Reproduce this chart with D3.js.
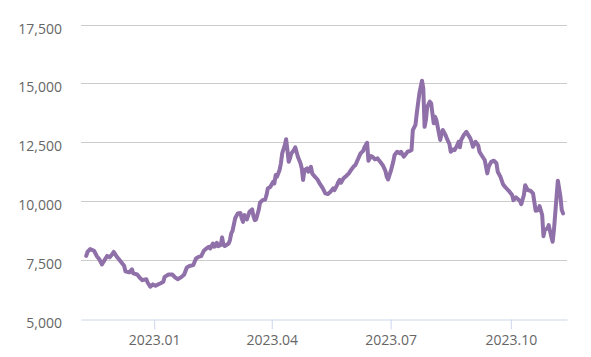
<!DOCTYPE html>
<html><head><meta charset="utf-8">
<script src="https://cdn.jsdelivr.net/npm/d3@7"></script>
<style>html,body{margin:0;padding:0;background:#fff;}svg{display:block;font-family:"Open Sans",sans-serif;}</style>
</head><body><svg id="chart" width="591" height="357"></svg>
<script>
const dates = ["2022-11-10","2022-11-11","2022-11-13","2022-11-16","2022-11-18","2022-11-20","2022-11-22","2022-11-24","2022-11-26","2022-11-28","2022-11-30","2022-12-01","2022-12-03","2022-12-05","2022-12-07","2022-12-09","2022-12-10","2022-12-13","2022-12-15","2022-12-16","2022-12-19","2022-12-21","2022-12-23","2022-12-26","2022-12-27","2022-12-29","2022-12-31","2023-01-02","2023-01-04","2023-01-06","2023-01-08","2023-01-09","2023-01-12","2023-01-15","2023-01-17","2023-01-19","2023-01-22","2023-01-24","2023-01-26","2023-01-28","2023-01-31","2023-02-02","2023-02-04","2023-02-06","2023-02-08","2023-02-10","2023-02-12","2023-02-13","2023-02-15","2023-02-16","2023-02-17","2023-02-18","2023-02-19","2023-02-21","2023-02-22","2023-02-23","2023-02-24","2023-02-27","2023-02-28","2023-03-01","2023-03-02","2023-03-04","2023-03-06","2023-03-08","2023-03-09","2023-03-10","2023-03-11","2023-03-13","2023-03-15","2023-03-17","2023-03-18","2023-03-19","2023-03-20","2023-03-22","2023-03-23","2023-03-25","2023-03-27","2023-03-28","2023-03-29","2023-03-31","2023-04-02","2023-04-03","2023-04-04","2023-04-05","2023-04-07","2023-04-08","2023-04-09","2023-04-11","2023-04-12","2023-04-13","2023-04-14","2023-04-15","2023-04-16","2023-04-18","2023-04-19","2023-04-21","2023-04-23","2023-04-24","2023-04-25","2023-04-26","2023-04-28","2023-04-29","2023-05-01","2023-05-02","2023-05-04","2023-05-06","2023-05-08","2023-05-10","2023-05-12","2023-05-14","2023-05-16","2023-05-18","2023-05-19","2023-05-21","2023-05-22","2023-05-23","2023-05-24","2023-05-26","2023-05-28","2023-05-30","2023-06-01","2023-06-03","2023-06-04","2023-06-06","2023-06-08","2023-06-10","2023-06-11","2023-06-13","2023-06-14","2023-06-16","2023-06-17","2023-06-19","2023-06-21","2023-06-23","2023-06-25","2023-06-27","2023-06-28","2023-06-29","2023-07-01","2023-07-03","2023-07-04","2023-07-06","2023-07-08","2023-07-09","2023-07-11","2023-07-14","2023-07-16","2023-07-17","2023-07-18","2023-07-20","2023-07-21","2023-07-22","2023-07-23","2023-07-25","2023-07-26","2023-07-27","2023-07-28","2023-07-29","2023-07-31","2023-08-01","2023-08-02","2023-08-03","2023-08-04","2023-08-05","2023-08-07","2023-08-08","2023-08-09","2023-08-10","2023-08-12","2023-08-13","2023-08-15","2023-08-16","2023-08-18","2023-08-19","2023-08-21","2023-08-22","2023-08-23","2023-08-24","2023-08-26","2023-08-28","2023-08-29","2023-08-31","2023-09-01","2023-09-02","2023-09-04","2023-09-06","2023-09-07","2023-09-09","2023-09-11","2023-09-13","2023-09-14","2023-09-16","2023-09-18","2023-09-20","2023-09-21","2023-09-23","2023-09-25","2023-09-27","2023-09-30","2023-10-02","2023-10-03","2023-10-05","2023-10-08","2023-10-09","2023-10-11","2023-10-12","2023-10-14","2023-10-16","2023-10-18","2023-10-19","2023-10-20","2023-10-22","2023-10-23","2023-10-25","2023-10-26","2023-10-27","2023-10-29","2023-10-30","2023-11-01","2023-11-02","2023-11-03","2023-11-04","2023-11-05","2023-11-06","2023-11-08","2023-11-09","2023-11-10"];
const values = [7660,7830,7950,7880,7660,7520,7300,7480,7660,7600,7740,7830,7660,7520,7380,7240,7010,6960,7090,6920,6870,6730,6630,6670,6530,6350,6450,6390,6450,6500,6560,6770,6870,6870,6750,6670,6770,6870,7170,7230,7270,7550,7620,7650,7880,7980,8050,7980,8190,8050,8080,8220,8080,8130,8450,8130,8080,8190,8330,8620,8730,9260,9470,9490,9260,9110,9400,9210,9540,9640,9350,9180,9210,9610,9920,10030,10060,10250,10530,10600,10810,10740,11100,11030,11310,11600,12020,12370,12620,12160,11660,11810,12020,12160,12280,11880,11600,11380,10890,11310,11380,11240,11450,11170,11030,10910,10710,10540,10320,10290,10390,10530,10460,10670,10810,10890,10770,10960,11060,11170,11340,11480,11520,11770,12020,12130,12280,12470,11710,11910,11880,11770,11810,11660,11520,11280,11030,10910,11240,11660,11950,12090,12020,12090,11880,12090,12130,12160,13010,13230,13720,14150,14570,15110,14790,13150,13440,14000,14220,14150,13720,13300,13580,13440,12870,12590,12870,13010,12800,12660,12420,12090,12190,12160,12370,12510,12280,12590,12800,12940,12840,12660,12510,12300,12510,12370,12090,11910,11740,11170,11450,11660,11710,11600,11240,11030,10710,10570,10390,10250,10030,10150,10000,9860,10250,10670,10460,10430,10320,9960,9580,9610,9780,9400,8500,8760,8830,8970,8470,8260,8760,9470,10170,10860,10170,9610,9470];
const yTicks = [5000, 7500, 10000, 12500, 15000, 17500];
const xTickDates = ["2023-01-01","2023-04-01","2023-07-01","2023-10-01"];
const xDomain = ["2022-11-06","2023-11-13"];

const parse = d3.utcParse("%Y-%m-%d");
const data = dates.map((d,i)=>({date: parse(d), value: values[i]}));
const svg = d3.select("#chart");
const plotLeft = 81, plotRight = 567, plotTop = 24.5, plotBottom = 318.5;

const x = d3.scaleUtc().domain(xDomain.map(parse)).range([plotLeft, plotRight]);
const y = d3.scaleLinear().domain([5000, 17500]).range([plotBottom, plotTop]);

// grid lines
svg.append("g").selectAll("line").data(yTicks.slice(1)).join("line")
  .attr("x1", plotLeft).attr("x2", plotRight)
  .attr("y1", d=>Math.round(y(d))+0.5).attr("y2", d=>Math.round(y(d))+0.5)
  .attr("stroke", "#cccccc").attr("stroke-width", 1);

// y labels
svg.append("g").selectAll("text").data(yTicks).join("text")
  .attr("x", 62).attr("y", d=>y(d)+9)
  .attr("text-anchor", "end").attr("fill", "#666666").attr("font-size", "14px")
  .text(d=>d3.format(",")(d));

// x axis
const xAxis = d3.axisBottom(x).tickValues(xTickDates.map(parse))
  .tickFormat(d3.utcFormat("%Y.%m")).tickSizeInner(10).tickSizeOuter(0).tickPadding(6);
const gx = svg.append("g").attr("transform", `translate(0,${Math.round(plotBottom)+0.5})`).call(xAxis);
gx.select(".domain").attr("stroke", "#ccd6eb");
gx.selectAll(".tick line").attr("stroke", "#ccd6eb");
gx.selectAll(".tick text").attr("fill", "#666666").attr("font-size", "14px")
  .attr("font-family", "'Open Sans', sans-serif").attr("dy", "0.71em");

// line
const line = d3.line().x(d=>x(d.date)).y(d=>y(d.value)).curve(d3.curveLinear);
svg.append("path").datum(data).attr("d", line)
  .attr("fill", "none").attr("stroke", "#9070a8").attr("stroke-width", 4)
  .attr("stroke-linejoin", "round").attr("stroke-linecap", "round");
</script></body></html>
